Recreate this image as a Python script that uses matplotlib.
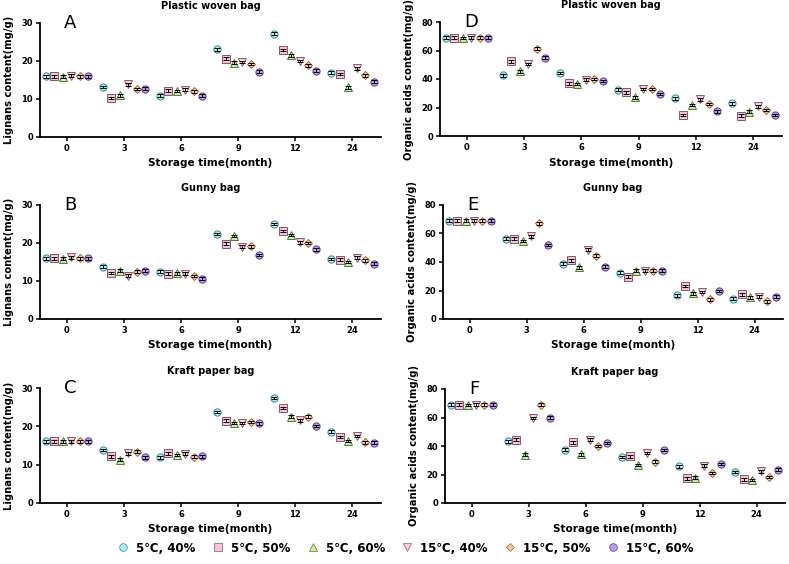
import matplotlib
matplotlib.use("Agg")
import matplotlib.pyplot as plt
from matplotlib.lines import Line2D
import numpy as np

plt.rcParams['font.family'] = ['DejaVu Sans']

time_labels = ["0", "3", "6", "9", "12", "24"]
series_labels = ["5℃, 40%", "5℃, 50%", "5℃, 60%", "15℃, 40%", "15℃, 50%", "15℃, 60%"]
markers = ["o", "s", "^", "v", "D", "o"]
face_colors = ["#a8eef0", "#f2c4d8", "#c4eca4", "#f6cfe0", "#f6c898", "#b99ae6"]
edge_colors = ["#3f8a8c", "#8a5470", "#4f7d36", "#8a5a6a", "#a06e3a", "#5b3f8e"]

# Lignans content (mg/g); rows = series, columns = time points
lig_plastic = [
    [16.0, 13.2, 10.9, 23.1, 27.2, 16.9],
    [16.0, 10.3, 12.2, 20.6, 22.9, 16.6],
    [15.9, 11.0, 12.1, 19.6, 21.5, 13.1],
    [16.1, 13.9, 12.5, 19.7, 20.0, 18.1],
    [16.0, 12.6, 12.0, 19.2, 18.9, 16.2],
    [16.0, 12.7, 10.9, 17.2, 17.5, 14.6],
]
lig_gunny = [
    [16.0, 13.8, 12.5, 22.4, 25.0, 15.8],
    [16.0, 12.1, 11.9, 19.8, 23.2, 15.6],
    [15.9, 12.7, 12.0, 21.8, 22.1, 15.0],
    [16.2, 11.4, 11.9, 19.0, 20.2, 16.1],
    [16.0, 12.5, 11.3, 19.1, 20.0, 15.4],
    [16.0, 12.7, 10.6, 16.8, 18.3, 14.6],
]
lig_kraft = [
    [16.1, 13.8, 11.9, 23.7, 27.4, 18.6],
    [16.1, 12.2, 13.0, 21.5, 24.8, 17.2],
    [16.1, 11.3, 12.5, 20.9, 22.5, 16.2],
    [16.1, 13.0, 12.9, 20.9, 21.6, 17.5],
    [16.1, 13.4, 12.1, 21.1, 22.5, 15.8],
    [16.1, 11.9, 12.2, 20.8, 20.1, 15.7],
]
# Organic acids content (mg/g)
oa_plastic = [
    [69.0, 42.6, 44.2, 32.5, 26.4, 22.9],
    [69.0, 52.4, 37.0, 30.6, 14.7, 14.3],
    [68.8, 45.4, 36.5, 27.1, 21.8, 17.1],
    [69.0, 50.5, 39.5, 33.0, 25.7, 20.8],
    [69.0, 61.3, 40.0, 33.0, 22.5, 18.2],
    [69.0, 55.0, 38.6, 29.5, 17.3, 14.7],
]
oa_gunny = [
    [69.0, 56.3, 38.7, 32.6, 16.7, 14.1],
    [69.0, 56.3, 41.3, 29.8, 23.2, 17.4],
    [69.0, 54.7, 36.4, 33.8, 18.1, 15.3],
    [69.0, 58.0, 48.6, 33.8, 19.0, 15.5],
    [69.0, 67.1, 44.4, 33.8, 13.8, 12.4],
    [69.0, 51.9, 36.6, 33.8, 19.7, 15.5],
]
oa_kraft = [
    [69.0, 43.3, 37.4, 32.3, 25.7, 21.8],
    [69.0, 44.4, 42.6, 32.7, 17.3, 16.6],
    [68.8, 33.9, 34.2, 26.7, 17.8, 16.1],
    [69.0, 59.6, 44.4, 35.1, 26.2, 22.2],
    [69.0, 69.0, 40.0, 29.0, 21.1, 18.2],
    [69.0, 59.9, 42.1, 37.2, 27.4, 23.4],
]
lig_err = 0.35
oa_err = 1.0

panels = [
    ("A", "Plastic woven bag", lig_plastic, "Lignans content(mg/g)", 30, [0, 10, 20, 30], lig_err),
    ("D", "Plastic woven bag", oa_plastic, "Organic acids content(mg/g)", 80, [0, 20, 40, 60, 80], oa_err),
    ("B", "Gunny bag", lig_gunny, "Lignans content(mg/g)", 30, [0, 10, 20, 30], lig_err),
    ("E", "Gunny bag", oa_gunny, "Organic acids content(mg/g)", 80, [0, 20, 40, 60, 80], oa_err),
    ("C", "Kraft paper bag", lig_kraft, "Lignans content(mg/g)", 30, [0, 10, 20, 30], lig_err),
    ("F", "Kraft paper bag", oa_kraft, "Organic acids content(mg/g)", 80, [0, 20, 40, 60, 80], oa_err),
]

W, H = 789, 564
fig = plt.figure(figsize=(W / 100, H / 100), dpi=100)

# axes boxes in pixels: left, top, right, bottom
boxes = [
    (40, 23, 381, 137), (440, 22, 782, 136),
    (40, 205, 381, 319), (443, 205, 783, 319),
    (40, 388, 381, 503), (445, 389, 785, 503),
]

step = 0.148
xg = np.arange(len(time_labels))

for (letter, title, data, ylabel, ymax, yticks, err), (l, t, r, b) in zip(panels, boxes):
    ax = fig.add_axes([l / W, 1 - b / H, (r - l) / W, (b - t) / H])
    for j in range(6):
        xs = xg + (j - 2.5) * step
        ax.errorbar(xs, data[j], yerr=err, fmt='none', ecolor='black',
                    elinewidth=0.7, capsize=2.0, capthick=0.7, zorder=3)
        ms = 5.2 if markers[j] != "D" else 4.2
        ax.plot(xs, data[j], linestyle='none', marker=markers[j], markersize=ms,
                markerfacecolor=face_colors[j], markeredgecolor=edge_colors[j],
                markeredgewidth=0.7, zorder=2)
    ax.set_xlim(-0.47, 5.5)
    ax.set_ylim(0, ymax)
    ax.set_yticks(yticks)
    ax.set_xticks(xg)
    ax.set_xticklabels(time_labels)
    for s in ["top", "right"]:
        ax.spines[s].set_visible(False)
    for s in ["left", "bottom"]:
        ax.spines[s].set_linewidth(1.3)
    ax.tick_params(axis='both', direction='out', length=3, width=1.1, labelsize=6, pad=2)
    for lab in ax.get_xticklabels() + ax.get_yticklabels():
        lab.set_fontweight('bold')
    ax.set_xlabel("Storage time(month)", fontsize=7.5, fontweight='bold', labelpad=4)
    ax.set_ylabel(ylabel, fontsize=7.2, fontweight='bold', labelpad=5)
    ax.set_title(title, fontsize=7, fontweight='bold', pad=10)
    ax.text(0.07, 1.0, letter, transform=ax.transAxes, fontsize=13, ha='left', va='center')

handles = [Line2D([], [], linestyle='none', marker=markers[j],
                  markersize=5.5 if markers[j] != "D" else 4.5,
                  markerfacecolor=face_colors[j], markeredgecolor=edge_colors[j],
                  markeredgewidth=0.5) for j in range(6)]
leg = fig.legend(handles, series_labels, loc='center', bbox_to_anchor=(0.513, 1 - 548 / H),
                 ncol=6, frameon=False, handletextpad=0.5, columnspacing=1.3,
                 handlelength=1.2, prop={'weight': 'bold', 'size': 8.5})

fig.savefig("out.png", dpi=100)
